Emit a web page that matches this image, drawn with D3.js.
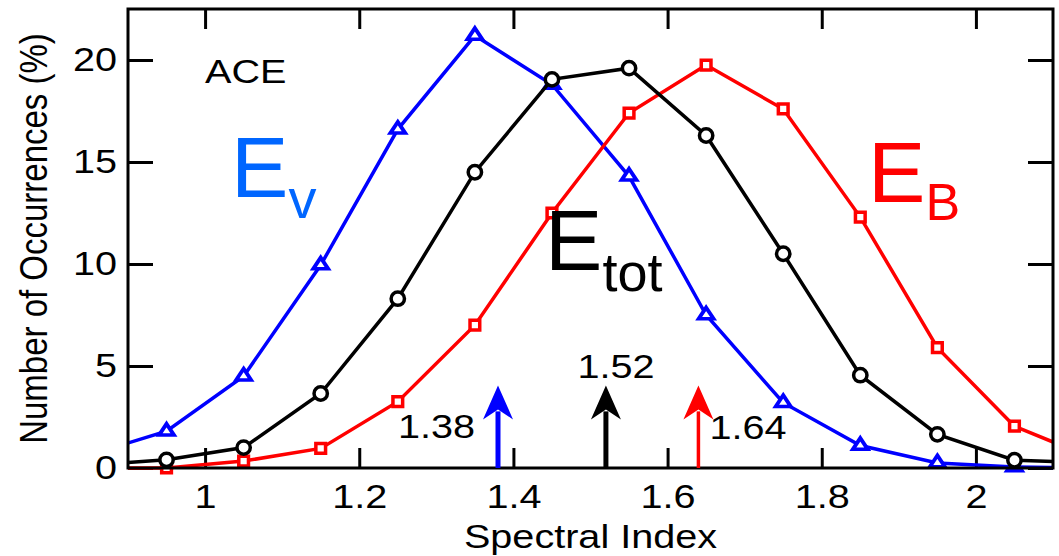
<!DOCTYPE html>
<html>
<head>
<meta charset="utf-8">
<script src="https://cdn.jsdelivr.net/npm/d3@7"></script>
<style>
  body { margin: 0; background: #fff; }
  text { font-family: "Liberation Sans", Arial, sans-serif; }
</style>
</head>
<body>
<div id="chart"></div>
<script>
// bin centres of the spectral index histogram (first/last fall just outside the frame)
const binCenters = [0.85, 0.95, 1.05, 1.15, 1.25, 1.35, 1.45, 1.55, 1.65, 1.75, 1.85, 1.95, 2.05, 2.15]
const eV   = [0.65, 1.8, 4.5, 9.95, 16.6, 21.2, 18.8, 14.3, 7.5, 3.2, 1.1, 0.25, 0.05, 0.0]
const eTot = [0.13, 0.4, 1.0, 3.65, 8.3, 14.5, 19.05, 19.6, 16.3, 10.5, 4.55, 1.65, 0.38, 0.25]
const eB   = [0.0, 0.0, 0.34, 0.96, 3.25, 7.0, 12.5, 17.4, 19.75, 17.6, 12.3, 5.9, 2.05, 0.5]

const xTicks = [1, 1.2, 1.4, 1.6, 1.8, 2]
const yTicks = [0, 5, 10, 15, 20]

// median spectral indices marked with arrows
const medians = [1.38, 1.52, 1.64]
const medianLabels = ["1.38", "1.52", "1.64"]
const arrowTip = 4.05

const width = 1059
const height = 556
const marginLeft = 128
const marginRight = 6
const marginTop = 9
const marginBottom = 88
const sx = 1.2   // the original figure is stretched horizontally

const svg = d3.select("#chart").append("svg")
    .attr("width", width)
    .attr("height", height)
    .attr("viewBox", [0, 0, width, height])

const xScale = d3.scaleLinear([0.9, 2.1], [marginLeft, width - marginRight])
const yScale = d3.scaleLinear([0, 22.5], [height - marginBottom, marginTop])

const stretch = sel => sel.each(function () {
    const t = d3.select(this)
    const x = +t.attr("x") || 0
    t.attr("transform", `translate(${x},0) scale(${sx},1) translate(${-x},0)`)
})

// axes with inward ticks on all four sides
const styleAxis = g => {
    g.select(".domain").remove()
    g.selectAll(".tick line").attr("stroke", "#000").attr("stroke-width", 3)
    g.selectAll(".tick text").attr("font-size", 33).attr("fill", "#000")
        .attr("font-family", "Liberation Sans, Arial, sans-serif")
}

svg.append("g")
    .attr("transform", `translate(0,${yScale(0)})`)
    .call(d3.axisBottom(xScale).tickValues(xTicks).tickSize(-20).tickPadding(17).tickFormat(d3.format("")))
    .call(styleAxis)
    .call(g => g.selectAll(".tick text").call(stretch))

svg.append("g")
    .attr("transform", `translate(0,${marginTop})`)
    .call(d3.axisTop(xScale).tickValues(xTicks).tickSize(-20).tickFormat(""))
    .call(styleAxis)

svg.append("g")
    .attr("transform", `translate(${marginLeft},0)`)
    .call(d3.axisLeft(yScale).tickValues(yTicks).tickSize(-25).tickPadding(11).tickFormat(d3.format("")))
    .call(styleAxis)
    .call(g => g.selectAll(".tick text").call(stretch))

svg.append("g")
    .attr("transform", `translate(${width - marginRight},0)`)
    .call(d3.axisRight(yScale).tickValues(yTicks).tickSize(-25).tickFormat(""))
    .call(styleAxis)

// clip lines to the frame
svg.append("clipPath").attr("id", "clip")
    .append("rect")
    .attr("x", marginLeft).attr("y", marginTop)
    .attr("width", width - marginLeft - marginRight)
    .attr("height", height - marginTop - marginBottom + 6)

const line = d3.line().x(d => xScale(d[0])).y(d => yScale(d[1]))
const inside = d => d[0] > 0.9 && d[0] < 2.1

const series = [
    {values: eV, color: "#0000ff", marker: "triangle"},
    {values: eB, color: "#ff0000", marker: "square"},
    {values: eTot, color: "#000000", marker: "circle"}
]

series.forEach(s => {
    const pts = binCenters.map((x, i) => [x, s.values[i]])
    svg.append("path")
        .attr("clip-path", "url(#clip)")
        .attr("d", line(pts))
        .attr("fill", "none")
        .attr("stroke", s.color)
        .attr("stroke-width", 3.5)

    const sym = s.marker === "triangle" ? d3.symbolTriangle2
        : s.marker === "square" ? d3.symbolSquare2 : d3.symbolCircle2
    const size = s.marker === "triangle" ? 120 : s.marker === "square" ? 120 : 140
    svg.append("g").selectAll("path")
        .data(pts.filter(inside))
        .join("path")
        .attr("transform", d => `translate(${xScale(d[0])},${yScale(d[1])})` + (s.marker === "triangle" ? " scale(1.15,1)" : ""))
        .attr("d", d3.symbol(sym, size))
        .attr("fill", "#fff")
        .attr("stroke", s.color)
        .attr("stroke-width", 3.5)
})

// frame
svg.append("rect")
    .attr("x", marginLeft).attr("y", marginTop)
    .attr("width", width - marginLeft - marginRight)
    .attr("height", yScale(0) - marginTop)
    .attr("fill", "none")
    .attr("stroke", "#000")
    .attr("stroke-width", 3)

// median arrows
const arrowColors = ["#0000ff", "#000000", "#ff0000"]
const stemWidths = [5, 5, 3.5]
const labelOffsets = [[-23, "end", 1.47], [10, "middle", 4.4], [11, "start", 1.42]]
medians.forEach((m, i) => {
    const x = xScale(m)
    const y0 = yScale(0)
    const yt = yScale(arrowTip)
    const headLen = 34
    const headW = 15
    svg.append("line")
        .attr("x1", x).attr("x2", x)
        .attr("y1", y0).attr("y2", yt + headLen - 8)
        .attr("stroke", arrowColors[i])
        .attr("stroke-width", stemWidths[i])
    svg.append("path")
        .attr("d", `M${x},${yt} L${x + headW},${yt + headLen} L${x},${yt + headLen - 10} L${x - headW},${yt + headLen} Z`)
        .attr("fill", arrowColors[i])
    const [dx, anchor, ly] = labelOffsets[i]
    svg.append("text")
        .attr("x", x + dx)
        .attr("y", yScale(ly))
        .attr("text-anchor", anchor)
        .attr("font-size", 33)
        .attr("fill", "#000")
        .text(medianLabels[i])
        .call(stretch)
})

// axis titles
svg.append("text")
    .attr("x", (marginLeft + width - marginRight) / 2)
    .attr("y", 548)
    .attr("text-anchor", "middle")
    .attr("font-size", 33)
    .text("Spectral Index")
    .call(stretch)

svg.append("text")
    .attr("transform", `translate(47,${(marginTop + yScale(0)) / 2}) scale(${sx},1) rotate(-90)`)
    .attr("text-anchor", "middle")
    .attr("font-size", 33)
    .text("Number of Occurrences (%)")

svg.append("text")
    .attr("x", 205)
    .attr("y", 83)
    .attr("font-size", 33)
    .text("ACE")
    .call(stretch)

// curve labels
const bigLabels = [
    {x: 231, y: 197, sub: "v", dy: 21, subSize: 56, color: "#0066ff"},
    {x: 545, y: 270, sub: "tot", dy: 21, subSize: 54, color: "#000000"},
    {x: 868, y: 202, sub: "B", dy: 18, subSize: 52, color: "#ff0000"}
]
bigLabels.forEach(l => {
    const t = svg.append("text")
        .attr("x", l.x)
        .attr("y", l.y)
        .attr("font-size", 86)
        .attr("fill", l.color)
    t.append("tspan").text("E")
    t.append("tspan").attr("dy", l.dy).attr("font-size", l.subSize).text(l.sub)
})
</script>
</body>
</html>
